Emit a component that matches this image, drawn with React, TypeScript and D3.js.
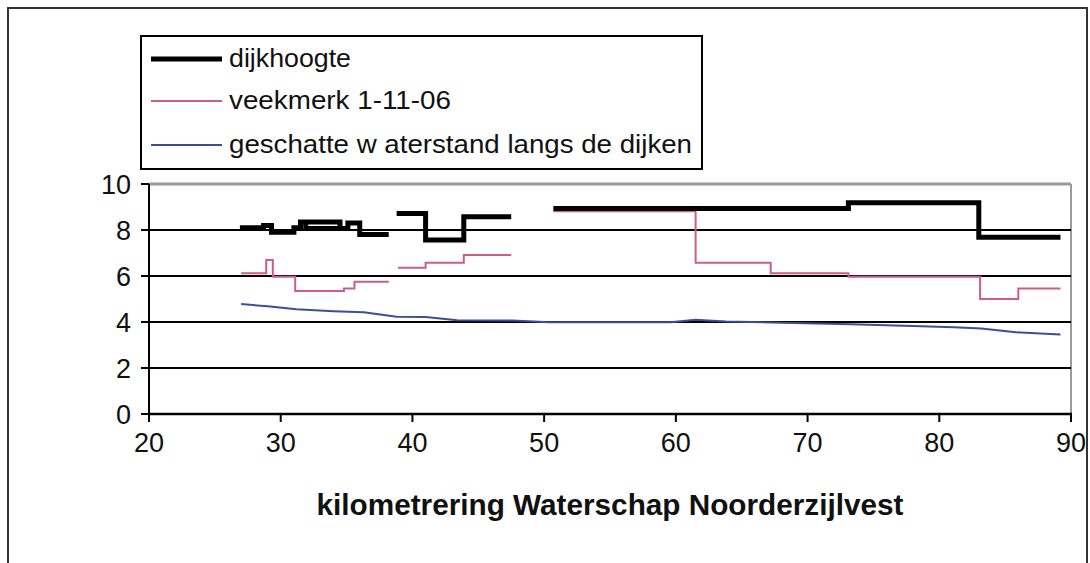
import * as d3 from "d3"

// kilometrering (km) vs hoogte (m); each series has gaps, so it is split in pieces
const dijkhoogte: [number, number][][] = [
  [
    [26.9, 8.1], [28.7, 8.1], [28.7, 8.2], [29.3, 8.2], [29.3, 7.9], [31.0, 7.9],
    [31.0, 8.1], [31.5, 8.1], [31.5, 8.35], [34.5, 8.35], [34.5, 8.07], [31.9, 8.07],
    [31.9, 8.35], [34.5, 8.35], [34.5, 8.07], [35.1, 8.07], [35.1, 8.3], [36.0, 8.3],
    [36.0, 7.8], [38.2, 7.8],
  ],
  [[38.8, 8.72], [41.0, 8.72], [41.0, 7.57], [43.9, 7.57], [43.9, 8.58], [47.5, 8.58]],
  [[50.7, 8.94], [73.1, 8.94], [73.1, 9.19], [83.0, 9.19], [83.0, 7.68], [89.2, 7.68]],
]

const veekmerk: [number, number][][] = [
  [
    [27.0, 6.12], [28.9, 6.12], [28.9, 6.7], [29.4, 6.7], [29.4, 5.97], [31.1, 5.97],
    [31.1, 5.35], [34.8, 5.35], [34.8, 5.46], [35.6, 5.46], [35.6, 5.75], [38.2, 5.75],
  ],
  [[38.9, 6.36], [41.0, 6.36], [41.0, 6.58], [43.9, 6.58], [43.9, 6.91], [47.5, 6.91]],
  [
    [50.7, 8.81], [61.5, 8.81], [61.5, 6.58], [67.2, 6.58], [67.2, 6.12], [73.1, 6.12],
    [73.1, 5.97], [83.1, 5.97], [83.1, 5.0], [86.0, 5.0], [86.0, 5.46], [89.2, 5.46],
  ],
]

const waterstand: [number, number][][] = [
  [
    [27.0, 4.78], [29.0, 4.68], [31.2, 4.55], [34.0, 4.47], [36.3, 4.42], [38.8, 4.23],
    [41.0, 4.22], [43.4, 4.08], [47.6, 4.06], [50.4, 3.99], [55.0, 3.99], [59.6, 3.99],
    [61.5, 4.1], [63.8, 4.02], [68.0, 3.97], [73.3, 3.9], [78.0, 3.83], [81.1, 3.77],
    [83.2, 3.72], [85.8, 3.55], [89.2, 3.46],
  ],
]

const xTicks = [20, 30, 40, 50, 60, 70, 80, 90]
const yTicks = [0, 2, 4, 6, 8, 10]

const legendItems = [
  { label: "dijkhoogte", color: "#000000", width: 5, textLen: 122 },
  { label: "veekmerk 1-11-06", color: "#cc5c8e", width: 2, textLen: 222 },
  { label: "geschatte w aterstand langs de dijken", color: "#3b4f96", width: 2, textLen: 463 },
]

const W = 1090
const H = 563
const font = "'Liberation Sans', Arial, sans-serif"

export default function App() {
  const x = d3.scaleLinear().domain([20, 90]).range([149, 1071])
  const y = d3.scaleLinear().domain([0, 10]).range([414, 184])

  const line = d3
    .line<[number, number]>()
    .x((d) => x(d[0]))
    .y((d) => y(d[1]))

  const series = [
    { pieces: waterstand, color: legendItems[2].color, width: 2 },
    { pieces: veekmerk, color: legendItems[1].color, width: 2 },
    { pieces: dijkhoogte, color: "#000000", width: 5 },
  ]

  return (
    <svg
      width={W}
      height={H}
      style={{ position: "absolute", left: 0, top: 0, background: "#fff" }}
      fontFamily={font}
    >
      {/* outer frame */}
      <rect x={8} y={8} width={1079} height={580} fill="#fff" stroke="#333" strokeWidth={2} />

      {/* plot area border (top + right grey) */}
      <line x1={x(20)} x2={x(90)} y1={y(10)} y2={y(10)} stroke="#9a9a9a" strokeWidth={3} />
      <line x1={x(90)} x2={x(90)} y1={y(10)} y2={y(0)} stroke="#9a9a9a" strokeWidth={2} />

      {/* gridlines */}
      {yTicks
        .filter((t) => t > 0 && t < 10)
        .map((t) => (
          <line key={t} x1={x(20)} x2={x(90)} y1={y(t)} y2={y(t)} stroke="#000" strokeWidth={2} />
        ))}

      {/* y axis */}
      <line x1={x(20)} x2={x(20)} y1={y(10)} y2={y(0) + 1} stroke="#000" strokeWidth={2} />
      {yTicks.map((t) => (
        <g key={t}>
          <line x1={x(20) - 8} x2={x(20)} y1={y(t)} y2={y(t)} stroke="#000" strokeWidth={2} />
          <text x={131} y={y(t) + 10} textAnchor="end" fontSize={27} fill="#111">
            {t}
          </text>
        </g>
      ))}

      {/* x axis */}
      <line x1={x(20) - 1} x2={x(90) + 1} y1={y(0)} y2={y(0)} stroke="#000" strokeWidth={2.5} />
      {xTicks.map((t) => (
        <g key={t}>
          <line x1={x(t)} x2={x(t)} y1={y(0)} y2={y(0) + 8} stroke="#000" strokeWidth={2} />
          <text x={x(t)} y={452} textAnchor="middle" fontSize={27} fill="#111">
            {t}
          </text>
        </g>
      ))}

      {/* series */}
      {series.map((s, i) =>
        s.pieces.map((p, j) => (
          <path
            key={`${i}-${j}`}
            d={line(p) ?? ""}
            fill="none"
            stroke={s.color}
            strokeWidth={s.width}
            strokeLinejoin="miter"
          />
        ))
      )}

      {/* x-axis title */}
      <text
        x={(x(20) + x(90)) / 2}
        y={515}
        textAnchor="middle"
        fontSize={29}
        fontWeight="bold"
        fill="#111"
        textLength={587}
        lengthAdjust="spacingAndGlyphs"
      >
        kilometrering Waterschap Noorderzijlvest
      </text>

      {/* legend */}
      <rect x={141} y={36} width={561} height={133} fill="#fff" stroke="#000" strokeWidth={2} />
      {legendItems.map((it, i) => {
        const cy = [59, 101, 145][i]
        return (
          <g key={it.label}>
            <line x1={151} x2={222} y1={cy} y2={cy} stroke={it.color} strokeWidth={it.width} />
            <text
              x={229}
              y={cy + 8}
              fontSize={26}
              fill="#111"
              textLength={it.textLen}
              lengthAdjust="spacingAndGlyphs"
            >
              {it.label}
            </text>
          </g>
        )
      })}
    </svg>
  )
}
